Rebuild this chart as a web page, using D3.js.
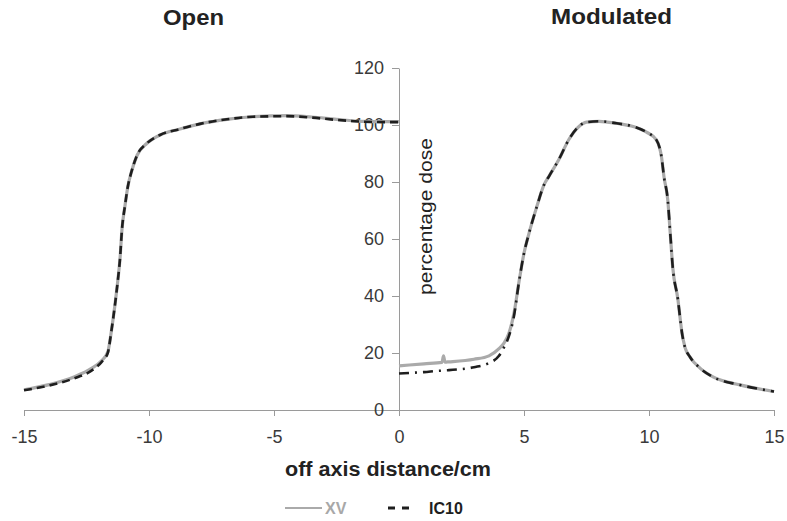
<!DOCTYPE html>
<html>
<head>
<meta charset="utf-8">
<script src="https://cdn.jsdelivr.net/npm/d3@7"></script>
<style>
  body { margin: 0; background: #fff; }
  text { font-family: "Liberation Sans", Arial, sans-serif; }
</style>
</head>
<body>
<div id="chart"></div>
<script>
let width = 787;
let height = 521;

// open field (left half)
const openX = [-15, -14, -13, -12.3, -11.9, -11.65, -11.5, -11.36, -11.24, -11.16, -11.08, -10.96, -10.84, -10.72, -10.48, -10.08, -9.56, -8.76, -7.96, -6.88, -5.84, -4.5, -3.5, -2.5, -1.5, -0.5, 0];
const openXV = [7.1, 8.9, 11.6, 14.6, 17.3, 20.3, 28, 37, 46, 53, 63.5, 71.7, 78.7, 83, 89.3, 93.6, 96.5, 98.6, 100.4, 102.0, 102.9, 103.3, 102.8, 102, 101.3, 101.2, 101.2];
const openIC10 = [6.9, 8.6, 11.1, 13.8, 16.8, 20.0, 28, 37, 46, 53, 63.5, 71.7, 78.7, 83, 89.3, 93.6, 96.5, 98.6, 100.4, 102.0, 102.9, 103.1, 102.6, 101.8, 101.2, 101, 101];

// modulated field (right half)
const modX = [0, 1, 1.72, 1.78, 1.84, 2, 3, 3.6, 4.0, 4.2, 4.4, 4.6, 4.8, 5.0, 5.2, 5.5, 5.8, 6.0, 6.4, 6.8, 7.2, 7.5, 8.0, 8.7, 9.4, 9.9, 10.3, 10.5, 10.6, 10.75, 10.85, 10.95, 11.16, 11.24, 11.32, 11.44, 11.64, 12.04, 12.56, 13.64, 15];
const modXV = [15.5, 16.2, 16.7, 19, 16.8, 16.9, 17.8, 19, 21.5, 23.5, 27, 34, 45, 55, 62, 71, 79, 82, 88, 95, 99.5, 101, 101.3, 100.6, 99.4, 97.5, 94.7, 88.8, 81.8, 73.7, 62, 50, 38.6, 32.6, 27, 22, 18.6, 14.7, 11.6, 8.8, 6.5];
const modIC10 = [12.8, 13.3, 13.8, 13.8, 13.9, 14, 15, 16.5, 19, 22, 26, 33, 45, 55, 62, 71, 79, 82, 88, 95, 99.5, 101, 101.3, 100.6, 99.4, 97.5, 94.7, 88.8, 81.8, 73.7, 62, 50, 38.6, 32.6, 27, 22, 18.6, 14.7, 11.6, 8.8, 6.5];

const xTicks = [-15, -10, -5, 0, 5, 10, 15];
const yTicks = [0, 20, 40, 60, 80, 100, 120];
const panelTitles = ["Open", "Modulated"];
const legendItems = ["XV", "IC10"];

let svg = d3.select("#chart").append("svg")
  .attr("width", width)
  .attr("height", height);

let xScale = d3.scaleLinear().domain([-15, 15]).range([24, 774]);
let yScale = d3.scaleLinear().domain([0, 120]).range([410, 68]);

// x axis along y=0 (excel style hyphen minus)
let xAxis = d3.axisBottom(xScale).tickValues(xTicks).tickFormat(d => String(d))
  .tickSize(6).tickPadding(14).tickSizeOuter(0);
let xAxisGroup = svg.append("g")
  .attr("transform", `translate(0,${yScale(0)})`)
  .call(xAxis);

// y axis at x=0
let yAxis = d3.axisLeft(yScale).tickValues(yTicks).tickFormat(d => String(d))
  .tickSize(7).tickPadding(8).tickSizeOuter(0);
let yAxisGroup = svg.append("g")
  .attr("transform", `translate(${xScale(0)},0)`)
  .call(yAxis);

[xAxisGroup, yAxisGroup].forEach(g => {
  g.selectAll("path, line").attr("stroke", "#9a9a9a").attr("stroke-width", 1);
  g.selectAll("text").attr("fill", "#3a3a3a").style("font-size", "18px");
});

// lines
let line = d3.line()
  .x(d => xScale(d[0]))
  .y(d => yScale(d[1]))
  .curve(d3.curveMonotoneX);

const zip = (xs, ys) => xs.map((x, i) => [x, ys[i]]);

let series = [
  { data: zip(openX, openXV), stroke: "#aaaaaa", width: 3.2, dash: null },
  { data: zip(modX, modXV), stroke: "#aaaaaa", width: 3.2, dash: null },
  { data: zip(openX, openIC10), stroke: "#1e1e1e", width: 2.6, dash: "8,5" },
  { data: zip(modX, modIC10), stroke: "#1e1e1e", width: 2.6, dash: "10,6,2,6" }
];

svg.append("g").selectAll("path")
  .data(series)
  .enter()
  .append("path")
  .attr("d", d => line(d.data))
  .attr("fill", "none")
  .attr("stroke", d => d.stroke)
  .attr("stroke-width", d => d.width)
  .attr("stroke-dasharray", d => d.dash);

// panel titles
let titlePos = [{ x: 193.5, y: 25, w: 61 }, { x: 611.5, y: 24, w: 121 }];
svg.append("g").selectAll("text")
  .data(panelTitles)
  .enter()
  .append("text")
  .attr("x", (d, i) => titlePos[i].x - titlePos[i].w / 2)
  .attr("y", (d, i) => titlePos[i].y)
  .attr("textLength", (d, i) => titlePos[i].w)
  .attr("lengthAdjust", "spacingAndGlyphs")
  .style("font-size", "22.5px")
  .style("font-weight", "bold")
  .attr("fill", "#222")
  .text(d => d);

// axis titles
svg.append("text")
  .attr("x", 285)
  .attr("y", 476)
  .attr("textLength", 206)
  .attr("lengthAdjust", "spacingAndGlyphs")
  .style("font-size", "19.5px")
  .style("font-weight", "bold")
  .attr("fill", "#222")
  .text("off axis distance/cm");

svg.append("text")
  .attr("transform", `translate(432,295) rotate(-90)`)
  .attr("textLength", 157)
  .attr("lengthAdjust", "spacingAndGlyphs")
  .style("font-size", "19px")
  .attr("fill", "#222")
  .text("percentage dose");

// legend
let legend = svg.append("g").attr("transform", "translate(0,508)");
legend.append("line")
  .attr("x1", 285).attr("x2", 322).attr("y1", 0).attr("y2", 0)
  .attr("stroke", "#aaaaaa").attr("stroke-width", 2);
legend.append("text")
  .attr("x", 325).attr("y", 6)
  .style("font-size", "16px").style("font-weight", "bold")
  .attr("fill", "#a8a8a8")
  .text(legendItems[0]);
legend.append("line")
  .attr("x1", 388).attr("x2", 409).attr("y1", 0).attr("y2", 0)
  .attr("stroke", "#1e1e1e").attr("stroke-width", 3)
  .attr("stroke-dasharray", "7,7");
legend.append("text")
  .attr("x", 429).attr("y", 6)
  .style("font-size", "16px").style("font-weight", "bold")
  .attr("fill", "#1e1e1e")
  .text(legendItems[1]);
</script>
</body>
</html>
